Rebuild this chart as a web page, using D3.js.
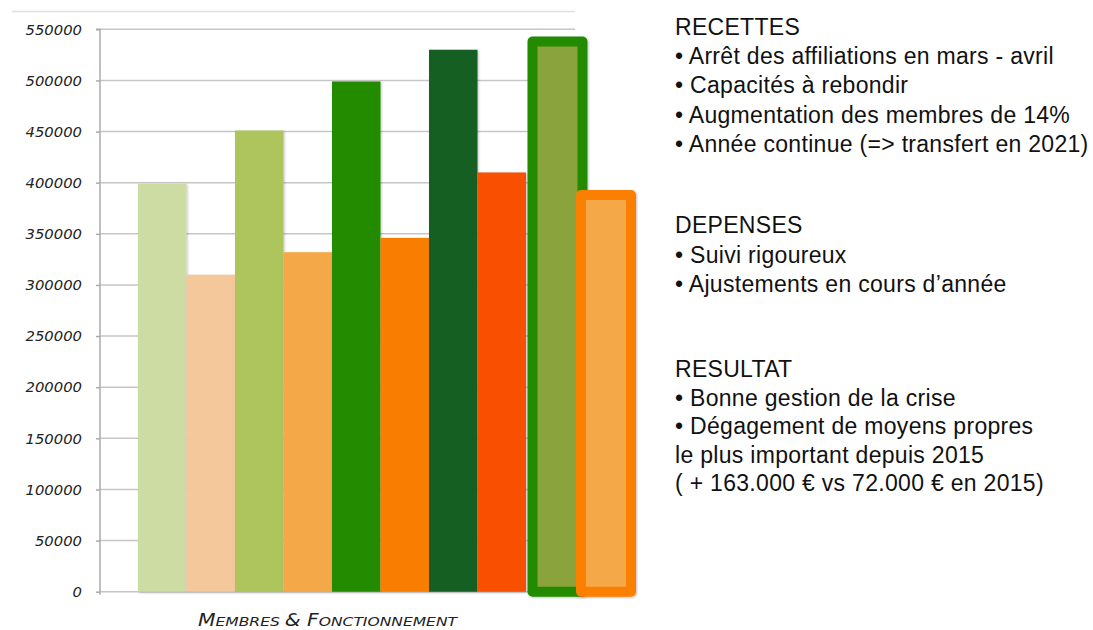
<!DOCTYPE html>
<html><head><meta charset="utf-8">
<script src="https://cdn.jsdelivr.net/npm/d3@7"></script>
<style>
html,body{margin:0;padding:0;background:#fff;}
svg{display:block;}
</style>
</head><body>
<svg id="chart" width="1093" height="630"></svg>
<script>
// ---- data ----
const categories = ["R1","D1","R2","D2","R3","D3","R4","D4","R5","D5"];
const values = [399000, 310000, 451000, 332000, 499000, 346000, 530000, 410000, 538000, 388000];
const fills = ["#cddca3","#f5c89b","#aec45d","#f5a847","#218b00","#f97e00","#135e20","#f85000","#8aa33e","#f5a847"];
const highlightStroke = [null,null,null,null,null,null,null,null,"#218b00","#fb7f00"];
const yTicks = [0,50000,100000,150000,200000,250000,300000,350000,400000,450000,500000,550000];
const xLabel = [["M",17],["EMBRES ",13],["& ",17],["F",17],["ONCTIONNEMENT",13]];
const notes = [
  {y:35, lines:["RECETTES","• Arrêt des affiliations en mars - avril","• Capacités à rebondir","• Augmentation des membres de 14%","• Année continue (=> transfert en 2021)"], step:29.2},
  {y:233, lines:["DEPENSES","• Suivi rigoureux","• Ajustements en cours d’année"], step:29.5},
  {y:377, lines:["RESULTAT","• Bonne gestion de la crise","• Dégagement de moyens propres","le plus important depuis 2015","( + 163.000 € vs 72.000 € en 2015)"], step:28.6}
];

const svg = d3.select("#chart");
const axisX = 100, plotRight = 575;
const y = d3.scaleLinear().domain([0,550000]).range([591.7,29.3]);
const x = d3.scaleBand().domain(categories).range([138,623]).padding(0);

const defs = svg.append("defs");
const f = defs.append("filter").attr("id","sh").attr("x","-10%").attr("y","-5%").attr("width","130%").attr("height","115%");
f.append("feDropShadow").attr("dx",1).attr("dy",1).attr("stdDeviation",1).attr("flood-color","#000").attr("flood-opacity",0.25);

// top decorative line
svg.append("line").attr("x1",12).attr("x2",plotRight).attr("y1",11.5).attr("y2",11.5)
  .attr("stroke","#e0e0e0").attr("stroke-width",1.5);

// gridlines
svg.append("g").selectAll("line").data(yTicks).join("line")
  .attr("x1",axisX).attr("x2",plotRight)
  .attr("y1",d=>y(d)).attr("y2",d=>y(d))
  .attr("stroke","#c6c6c6").attr("stroke-width",1.6);

// y axis
const yAxis = d3.axisLeft(y).tickValues(yTicks).tickFormat(d=>String(d)).tickSize(4).tickPadding(14);
const ga = svg.append("g").attr("transform",`translate(${axisX},0)`).call(yAxis);
ga.select(".domain").attr("stroke","#aaa").attr("stroke-width",1.5).attr("d",`M-4,${y(550000)}H0V${y(0)+3}`);
ga.selectAll(".tick line").attr("stroke","#aaa").attr("stroke-width",1.5);
ga.selectAll(".tick text").attr("font-family","DejaVu Sans").attr("font-style","italic")
  .attr("font-size",14.8).attr("fill","#222");

// bars (plain)
const idx = d3.range(values.length);
const plain = idx.filter(i=>!highlightStroke[i]);
const hl = idx.filter(i=>highlightStroke[i]);
svg.append("g").selectAll("rect").data(plain).join("rect")
  .attr("x",i=>x(categories[i])).attr("width",x.bandwidth())
  .attr("y",i=>y(values[i])).attr("height",i=>y(0)-y(values[i]))
  .attr("fill",i=>fills[i]).attr("filter","url(#sh)");

// highlighted bars
svg.append("g").selectAll("rect").data(hl).join("rect")
  .attr("x",i=>x(categories[i])+6.5).attr("width",x.bandwidth()+1.5)
  .attr("y",i=>y(values[i])).attr("height",i=>y(0)-y(values[i]))
  .attr("fill",i=>fills[i]).attr("stroke",i=>highlightStroke[i])
  .attr("stroke-width",10).attr("stroke-linejoin","round").attr("filter","url(#sh)");

// x label
const xl = svg.append("text").attr("x",327.5).attr("y",626).attr("text-anchor","middle")
  .attr("font-family","DejaVu Sans").attr("font-style","italic").attr("fill","#222")
  .attr("textLength",259).attr("lengthAdjust","spacingAndGlyphs");
xl.selectAll("tspan").data(xLabel).join("tspan").attr("font-size",d=>d[1]).text(d=>d[0]);

// notes
notes.forEach(b=>{
  svg.append("g").selectAll("text").data(b.lines).join("text")
    .attr("x",675).attr("y",(d,i)=>b.y+i*b.step)
    .attr("font-family","Liberation Sans, Arial").attr("font-size",23).attr("letter-spacing",0.3).attr("fill","#111")
    .text(d=>d);
});
</script>
</body></html>
